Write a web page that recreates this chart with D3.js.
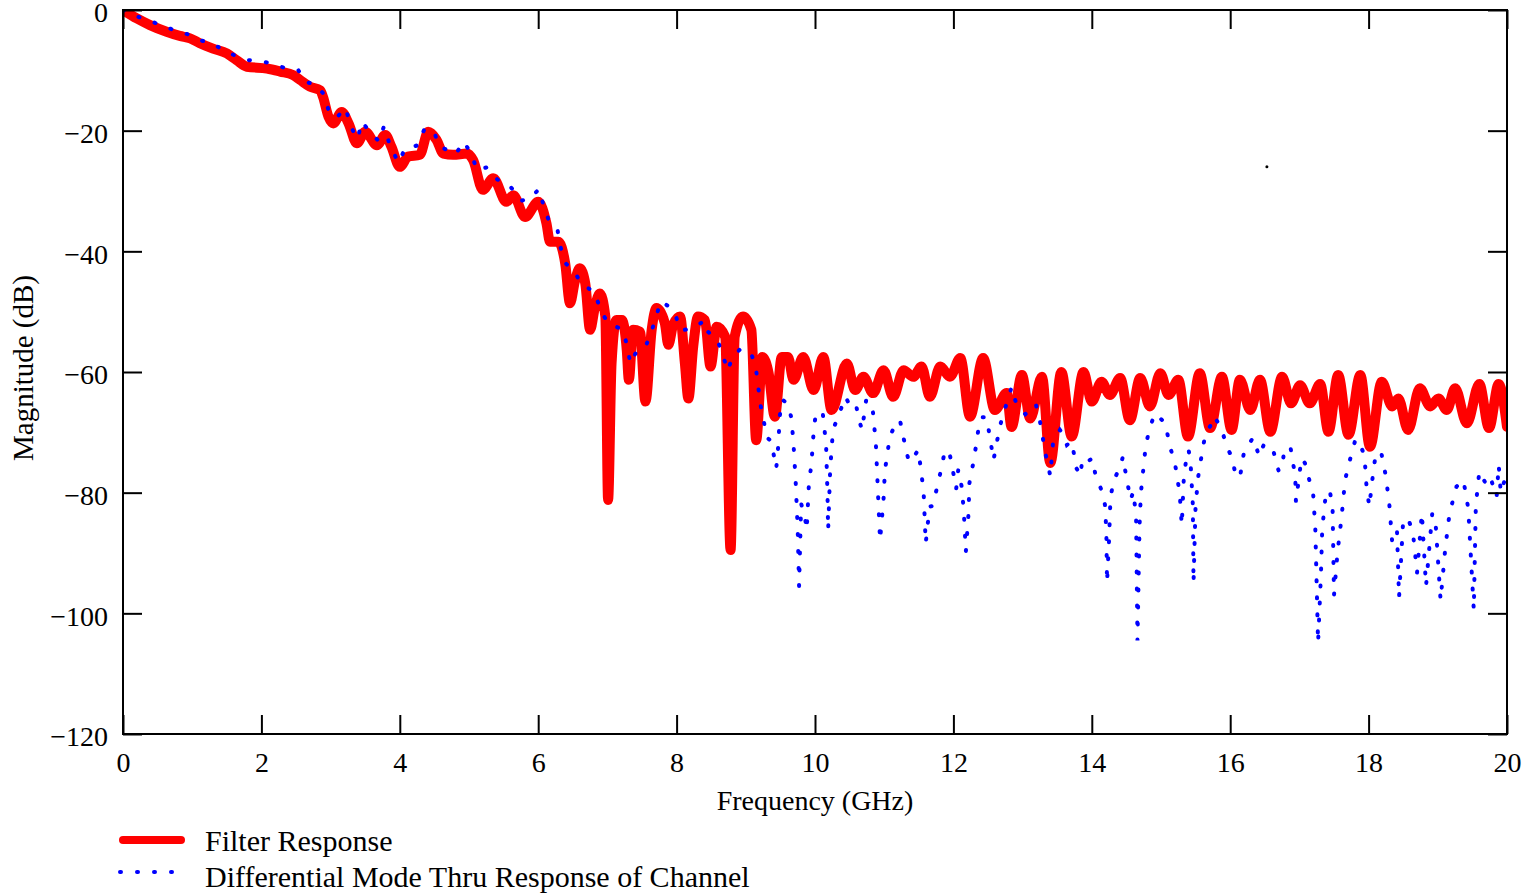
<!DOCTYPE html>
<html>
<head>
<meta charset="utf-8">
<script src="https://cdn.jsdelivr.net/npm/d3@7"></script>
<style>
  body { margin: 0; background: #fff; }
  svg { display: block; font-family: "Liberation Serif", "DejaVu Serif", serif; }
</style>
</head>
<body>
<svg id="chart" width="1535" height="896"></svg>
<script>
/*************************************************************
 *  Data section.
 *************************************************************/

// [frequency GHz, magnitude dB]
const filterResponse = [
  [0,0],[0.2,-1.4],[0.39,-2.5],[0.63,-3.6],[0.82,-4.3],[0.97,-4.7],[1.11,-5.5],[1.30,-6.4],
  [1.50,-7.2],[1.64,-8.3],[1.79,-9.4],[2.08,-9.7],[2.27,-10.2],[2.46,-10.8],[2.56,-11.6],
  [2.70,-12.7],[2.85,-13.3],[2.89,-14.4],[2.97,-17.7],[3.04,-18.8],[3.16,-16.9],[3.26,-18.8],
  [3.38,-22.1],[3.50,-20.2],[3.67,-22.4],[3.79,-20.7],[3.88,-22.7],[4.00,-26.0],[4.12,-24.3],
  [4.29,-24.0],[4.41,-20.2],[4.53,-21.5],[4.63,-23.8],[4.77,-24.0],[4.97,-23.8],[5.06,-24.9],
  [5.20,-29.8],[5.35,-27.9],[5.54,-31.8],[5.64,-30.7],[5.81,-34.3],[6.00,-31.8],[6.12,-35.4],
  [6.17,-38.4],[6.29,-38.4],[6.39,-42.0],[6.46,-48.6],[6.53,-45.0],[6.60,-42.8],[6.68,-45.3],
  [6.75,-53.0],[6.82,-49.2],[6.89,-47.0],[6.97,-50.8],[7.01,-81.2],[7.06,-58.6],[7.13,-51.4],
  [7.21,-51.4],[7.28,-56.4],[7.31,-61.3],[7.37,-53.0],[7.47,-53.3],[7.55,-64.9],[7.64,-53.0],
  [7.71,-49.4],[7.83,-51.9],[7.88,-55.5],[7.95,-52.2],[8.05,-50.8],[8.12,-58.6],[8.17,-64.4],
  [8.24,-55.8],[8.31,-50.8],[8.41,-51.4],[8.49,-59.1],[8.58,-52.5],[8.70,-54.1],[8.78,-89.5],
  [8.84,-54.1],[8.96,-50.8],[9.08,-53.0],[9.15,-71.3],[9.24,-57.5],[9.33,-60.2],[9.42,-67.4],
  [9.52,-57.5],[9.61,-57.5],[9.69,-61.3],[9.83,-57.5],[9.98,-63.0],[10.12,-57.5],[10.24,-66.3],
  [10.46,-58.6],[10.58,-63.0],[10.70,-60.8],[10.84,-63.5],[10.99,-59.7],[11.13,-64.1],
  [11.28,-59.7],[11.42,-60.8],[11.54,-59.1],[11.66,-64.1],[11.81,-59.1],[11.95,-60.8],
  [12.10,-57.7],[12.24,-67.4],[12.43,-57.7],[12.60,-66.3],[12.77,-63.5],[12.84,-69.1],
  [12.99,-60.5],[13.11,-67.7],[13.28,-60.8],[13.40,-75.1],[13.56,-60.0],[13.71,-70.7],
  [13.88,-60.0],[14.00,-64.9],[14.14,-61.6],[14.26,-63.8],[14.41,-61.0],[14.55,-68.0],
  [14.70,-61.0],[14.84,-65.7],[14.99,-60.2],[15.11,-63.8],[15.25,-61.3],[15.39,-70.7],
  [15.56,-60.2],[15.71,-69.3],[15.88,-60.8],[16.02,-69.6],[16.14,-61.3],[16.29,-66.3],
  [16.43,-61.3],[16.58,-69.9],[16.75,-60.8],[16.88,-65.2],[17.01,-62.2],[17.15,-65.2],
  [17.30,-62.0],[17.42,-69.9],[17.56,-60.5],[17.71,-70.4],[17.88,-60.5],[18.02,-72.4],
  [18.19,-61.6],[18.34,-65.7],[18.43,-64.4],[18.57,-69.6],[18.74,-62.7],[18.89,-65.7],
  [19.01,-64.4],[19.13,-66.3],[19.25,-62.7],[19.42,-68.5],[19.60,-62.0],[19.74,-69.3],
  [19.88,-62.0],[20.0,-69.1]
];

const channelResponse = [
  [0,0],[0.21,-1.1],[0.41,-1.9],[0.58,-2.65],[0.80,-3.6],[0.93,-4.0],[1.11,-5.0],[1.28,-5.5],
  [1.46,-6.7],[1.63,-7.6],[1.81,-8.3],[2.08,-8.7],[2.37,-9.7],[2.53,-9.9],[2.63,-11.9],
  [2.77,-12.3],[2.90,-13.9],[2.97,-16.6],[3.08,-17.9],[3.22,-16.2],[3.28,-19.1],[3.39,-21.4],
  [3.45,-18.5],[3.57,-20.2],[3.70,-21.8],[3.77,-19.3],[3.86,-22.5],[3.98,-25.3],[4.08,-22.9],
  [4.24,-22.5],[4.35,-19.9],[4.49,-19.9],[4.56,-22.5],[4.70,-23.3],[4.81,-23.9],[4.92,-21.8],
  [5.04,-23.9],[5.11,-26.5],[5.25,-26.1],[5.41,-28.1],[5.56,-28.8],[5.66,-30.1],[5.76,-31.6],
  [5.88,-31.3],[6.01,-29.7],[6.08,-32.5],[6.15,-34.8],[6.28,-36.5],[6.32,-39.2],[6.39,-41.9],
  [6.53,-43.5],[6.63,-45.5],[6.81,-46.7],[6.90,-49.6],[7.00,-51.8],[7.22,-53.0],[7.29,-55.8],
  [7.33,-58.6],[7.42,-56.6],[7.55,-55.8],[7.62,-53.9],[7.70,-51.0],[7.77,-48.3],[7.87,-49.0],
  [7.98,-50.4],[8.05,-53.0],[8.12,-53.0],[8.25,-52.7],[8.40,-51.5],[8.45,-53.3],[8.59,-54.7],
  [8.67,-57.3],[8.74,-59.8],[8.80,-57.7],[8.92,-56.2],[9.08,-56.9],[9.15,-59.8],[9.18,-62.5],
  [9.21,-65.3],[9.26,-68.1],[9.30,-70.8],[9.37,-71.5],[9.40,-73.5],[9.44,-76.0],[9.47,-72.1],
  [9.49,-67.3],[9.53,-64.6],[9.61,-65.3],[9.66,-67.7],[9.69,-72],[9.72,-78],[9.75,-86],
  [9.77,-95.5],[9.80,-81.8],[9.86,-84.5],[9.88,-86.2],[9.91,-79],[9.95,-74.9],[9.98,-70],
  [10.01,-67.0],[10.11,-66.6],[10.16,-72],[10.18,-80],[10.19,-86.2],[10.22,-76],[10.26,-69.6],
  [10.36,-66.6],[10.44,-64.1],[10.51,-65.7],[10.59,-65.3],[10.64,-68.1],[10.68,-69.6],
  [10.74,-64.6],[10.83,-65.7],[10.88,-72],[10.91,-80],[10.94,-87.9],[10.99,-81.2],[11.01,-76.4],
  [11.08,-70.8],[11.18,-68.1],[11.23,-68.1],[11.32,-73.2],[11.36,-74.9],[11.42,-74.3],
  [11.49,-72.9],[11.53,-76],[11.57,-80],[11.60,-88.4],[11.63,-85.1],[11.66,-82.3],[11.70,-82.2],
  [11.74,-80.3],[11.81,-76.8],[11.88,-72.9],[11.95,-73.8],[12.00,-76.8],[12.04,-79.4],
  [12.07,-76.2],[12.12,-79.0],[12.15,-83],[12.18,-89.8],[12.22,-83.2],[12.23,-78.5],
  [12.30,-74.3],[12.36,-69.6],[12.41,-67.5],[12.48,-67.5],[12.53,-71],[12.58,-74.6],
  [12.62,-72.1],[12.67,-69.2],[12.71,-67.3],[12.81,-63.8],[12.84,-62.5],[12.90,-64.9],
  [12.98,-66.1],[13.04,-67.0],[13.14,-66.1],[13.19,-65.3],[13.25,-68.1],[13.33,-73.5],
  [13.40,-77.2],[13.44,-71.6],[13.54,-69.6],[13.58,-70.2],[13.64,-72.1],[13.71,-71.5],
  [13.78,-76.0],[13.84,-77.2],[13.86,-74.4],[13.93,-74.9],[14.01,-74.3],[14.05,-76.9],
  [14.14,-79.6],[14.19,-82],[14.21,-86.3],[14.22,-94.9],[14.25,-87.6],[14.27,-80.7],
  [14.32,-77.9],[14.41,-75.7],[14.45,-74.0],[14.49,-76.8],[14.56,-81.2],[14.60,-79.8],
  [14.64,-84],[14.66,-104.5],[14.69,-85.5],[14.71,-80],[14.78,-72.1],[14.84,-69.2],
  [14.91,-66.9],[15.06,-68.4],[15.13,-72.4],[15.20,-75.0],[15.27,-80.1],[15.30,-85.4],
  [15.33,-77.5],[15.37,-74.0],[15.40,-72.9],[15.43,-75.6],[15.46,-82],[15.47,-94.9],[15.50,-82],
  [15.54,-77.2],[15.60,-72.9],[15.64,-70.4],[15.71,-69.0],[15.77,-67.3],[15.88,-69.6],
  [15.95,-72.4],[16.02,-74.0],[16.08,-77.1],[16.14,-77.5],[16.20,-73.2],[16.33,-70.9],
  [16.42,-74.0],[16.49,-71.9],[16.62,-72.9],[16.70,-76.4],[16.75,-76.0],[16.78,-72.9],
  [16.87,-72.4],[16.94,-77.3],[16.95,-81.5],[17.03,-74.3],[17.08,-75.1],[17.20,-80.4],
  [17.23,-86],[17.27,-104.9],[17.31,-94],[17.33,-86],[17.38,-80.4],[17.44,-79.6],[17.48,-82.9],
  [17.50,-97.0],[17.55,-90],[17.61,-84],[17.66,-77.9],[17.76,-73.2],[17.81,-71.2],[17.85,-71.3],
  [17.94,-73.8],[17.97,-79.0],[18.01,-82.3],[18.06,-77.3],[18.10,-73.8],[18.18,-73.2],
  [18.25,-77.3],[18.30,-82],[18.34,-88.1],[18.41,-86.2],[18.44,-97.4],[18.50,-84.5],
  [18.57,-84.3],[18.64,-86.5],[18.70,-93.3],[18.77,-83.4],[18.83,-95.5],[18.92,-83.4],
  [18.97,-85.4],[19.04,-97.8],[19.11,-89.0],[19.17,-83.4],[19.27,-79.0],[19.37,-77.9],
  [19.44,-82.6],[19.52,-99.4],[19.55,-82],[19.60,-76.5],[19.68,-78.2],[19.75,-77.1],
  [19.85,-80.7],[19.88,-75.4],[19.91,-80],[20.0,-76.7]
];

// stray point visible in the original plot
const strayPoints = [[16.53, -26.0]];

const xTicks = [0, 2, 4, 6, 8, 10, 12, 14, 16, 18, 20];
const yTicks = [0, -20, -40, -60, -80, -100, -120];
const legendLabels = ["Filter Response", "Differential Mode Thru Response of Channel"];

/*************************************************************
 *  Drawing section.
 *************************************************************/

const plotLeft = 123, plotRight = 1507, plotTop = 10, plotBottom = 734;
const tickLen = 19;
const fontSize = 28;

const svg = d3.select("#chart");

const x = d3.scaleLinear().domain([0, 20]).range([plotLeft, plotRight]);
const y = d3.scaleLinear().domain([-120, 0]).range([plotBottom, plotTop]);

// red curve looks smooth, channel curve is plain segments
const smoothLine = d3.line()
  .x(d => x(d[0]))
  .y(d => y(d[1]))
  .curve(d3.curveMonotoneX);

const line = d3.line()
  .x(d => x(d[0]))
  .y(d => y(d[1]));

svg.append("clipPath")
  .attr("id", "plot-clip")
  .append("rect")
  .attr("x", plotLeft)
  .attr("y", plotTop)
  .attr("width", plotRight - plotLeft)
  .attr("height", plotBottom - plotTop);

/**
 * Draws axes with inward ticks on all four sides.
 */
function draw_axes(){
  let bottomAxis = d3.axisBottom(x).tickValues(xTicks).tickSizeInner(-tickLen).tickSizeOuter(0).tickPadding(18)
  let leftAxis = d3.axisLeft(y).tickValues(yTicks).tickSizeInner(-tickLen).tickSizeOuter(0).tickPadding(15)
  let topAxis = d3.axisTop(x).tickValues(xTicks).tickSizeInner(-tickLen).tickSizeOuter(0).tickFormat("")
  let rightAxis = d3.axisRight(y).tickValues(yTicks).tickSizeInner(-tickLen).tickSizeOuter(0).tickFormat("")

  svg.append("g").attr("transform", `translate(0,${plotBottom})`).call(bottomAxis)
  let gl = svg.append("g").attr("transform", `translate(${plotLeft},0)`).call(leftAxis)
  svg.append("g").attr("transform", `translate(0,${plotTop})`).call(topAxis)
  svg.append("g").attr("transform", `translate(${plotRight},0)`).call(rightAxis)

  svg.selectAll(".domain").remove()
  svg.selectAll(".tick line").attr("stroke", "#000").attr("stroke-width", 2)
  svg.selectAll(".tick text")
    .attr("font-family", "Liberation Serif, DejaVu Serif, serif")
    .attr("font-size", fontSize)
    .attr("fill", "#000")
  gl.selectAll(".tick text").attr("dy", "0.42em")

  // frame
  svg.append("rect")
    .attr("x", plotLeft)
    .attr("y", plotTop)
    .attr("width", plotRight - plotLeft)
    .attr("height", plotBottom - plotTop)
    .attr("fill", "none")
    .attr("stroke", "#000")
    .attr("stroke-width", 2)

  // axis titles
  svg.append("text")
    .attr("x", (plotLeft + plotRight) / 2)
    .attr("y", 810)
    .attr("text-anchor", "middle")
    .attr("font-size", fontSize)
    .text("Frequency (GHz)")

  svg.append("text")
    .attr("transform", `translate(33,368) rotate(-90)`)
    .attr("text-anchor", "middle")
    .attr("font-size", 29)
    .text("Magnitude (dB)")
}

/**
 * Draws the two response curves.
 */
function draw_series(){
  let g = svg.append("g").attr("clip-path", "url(#plot-clip)")

  g.append("path")
    .datum(filterResponse)
    .attr("d", smoothLine)
    .attr("fill", "none")
    .attr("stroke", "#ff0000")
    .attr("stroke-width", 10)
    .attr("stroke-linejoin", "round")
    .attr("stroke-linecap", "round")

  g.append("path")
    .datum(channelResponse)
    .attr("d", line)
    .attr("fill", "none")
    .attr("stroke", "#0000ff")
    .attr("stroke-width", 4)
    .attr("stroke-linecap", "round")
    .attr("stroke-dasharray", "1 16")

  g.selectAll("circle.stray")
    .data(strayPoints)
    .enter()
    .append("circle")
    .attr("class", "stray")
    .attr("cx", d => x(d[0]))
    .attr("cy", d => y(d[1]))
    .attr("r", 1.5)
    .attr("fill", "#000")
}

/**
 * Draws legend below the chart.
 */
function draw_legend(){
  svg.append("line")
    .attr("x1", 123).attr("x2", 181)
    .attr("y1", 840).attr("y2", 840)
    .attr("stroke", "#ff0000")
    .attr("stroke-width", 8)
    .attr("stroke-linecap", "round")

  svg.append("line")
    .attr("x1", 120).attr("x2", 175)
    .attr("y1", 872).attr("y2", 872)
    .attr("stroke", "#0000ff")
    .attr("stroke-width", 4)
    .attr("stroke-linecap", "round")
    .attr("stroke-dasharray", "1 16")

  svg.selectAll("text.legend")
    .data(legendLabels)
    .enter()
    .append("text")
    .attr("class", "legend")
    .attr("x", 205)
    .attr("y", (d, i) => 851 + i * 36)
    .attr("font-size", 30)
    .text(d => d)
}

draw_series()
draw_axes()
draw_legend()
</script>
</body>
</html>
